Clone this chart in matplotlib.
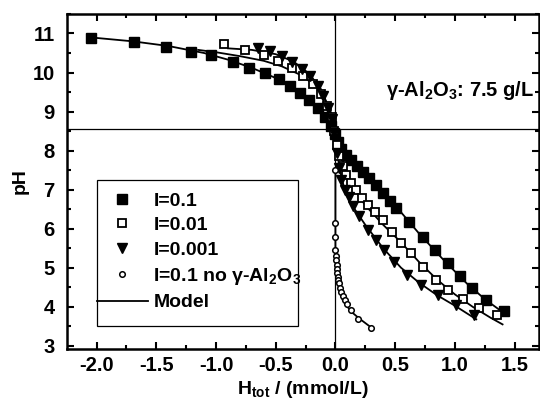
import matplotlib
matplotlib.use("Agg")
import matplotlib.pyplot as plt
from matplotlib.lines import Line2D
from matplotlib.patches import Rectangle
from matplotlib.ticker import MultipleLocator

plt.rcParams['font.family'] = ['Liberation Sans', 'DejaVu Sans']
plt.rcParams['font.weight'] = 'bold'
plt.rcParams['mathtext.fontset'] = 'custom'
plt.rcParams['mathtext.rm'] = 'Liberation Sans:bold'
plt.rcParams['mathtext.bf'] = 'Liberation Sans:bold'
plt.rcParams['mathtext.default'] = 'bf'
plt.rcParams['axes.unicode_minus'] = False

# ---- data: I = 0.1 (filled squares)
x_i01 = [-2.05, -1.69, -1.42, -1.21, -1.04, -0.86, -0.72, -0.59, -0.47, -0.38, -0.30, -0.22, -0.15,
         -0.09, -0.04, 0.0, 0.02, 0.05, 0.09, 0.13, 0.18, 0.23, 0.28, 0.34, 0.40, 0.46, 0.51, 0.62,
         0.73, 0.83, 0.94, 1.04, 1.14, 1.26, 1.41]
y_i01 = [10.88, 10.79, 10.66, 10.53, 10.45, 10.28, 10.12, 9.98, 9.83, 9.65, 9.47, 9.30, 9.09,
         8.87, 8.62, 8.42, 8.22, 8.05, 7.90, 7.76, 7.60, 7.45, 7.30, 7.12, 6.92, 6.72, 6.53, 6.18,
         5.80, 5.45, 5.11, 4.78, 4.47, 4.17, 3.90]

# ---- I = 0.01 (open squares)
x_i001 = [-0.93, -0.76, -0.60, -0.48, -0.36, -0.27, -0.19, -0.12, -0.07, -0.03, -0.01,
          0.01, 0.03, 0.06, 0.09, 0.13, 0.17, 0.22, 0.27, 0.33, 0.40, 0.47, 0.55, 0.63, 0.73,
          0.84, 0.94, 1.07, 1.20, 1.35]
y_i001 = [10.72, 10.58, 10.45, 10.30, 10.12, 9.92, 9.70, 9.45, 9.15, 8.85, 8.50,
          8.15, 7.85, 7.60, 7.38, 7.18, 6.98, 6.78, 6.60, 6.43, 6.22, 5.92, 5.63, 5.37, 5.03,
          4.68, 4.43, 4.21, 3.98, 3.79]

# ---- I = 0.001 (filled down triangles)
x_i0001 = [-0.65, -0.55, -0.45, -0.36, -0.28, -0.21, -0.15, -0.10, -0.06, -0.03, -0.01,
           0.01, 0.03, 0.05, 0.08, 0.11, 0.15, 0.20, 0.27, 0.34, 0.41, 0.49, 0.60, 0.72, 0.86,
           1.01, 1.16]
y_i0001 = [10.62, 10.55, 10.42, 10.28, 10.10, 9.90, 9.65, 9.40, 9.10, 8.80, 8.45,
           7.95, 7.55, 7.25, 7.00, 6.80, 6.58, 6.32, 5.98, 5.70, 5.45, 5.15, 4.81, 4.56, 4.30,
           4.04, 3.79]

# ---- I = 0.1, no gamma-Al2O3 (small open circles)
x_blank = [0.0, 0.0, 0.0, 0.0, 0.003, 0.006, 0.01, 0.013, 0.017, 0.02, 0.025, 0.03, 0.04,
           0.05, 0.065, 0.08, 0.1, 0.13, 0.19, 0.30]
y_blank = [7.50, 6.14, 5.80, 5.45, 5.30, 5.20, 5.08, 4.98, 4.87, 4.77, 4.68, 4.60, 4.48,
           4.38, 4.27, 4.17, 4.06, 3.92, 3.70, 3.47]

# ---- Model curves
mx_i01 = [-2.05, -1.7, -1.4, -1.1, -0.9, -0.7, -0.5, -0.35, -0.2, -0.1, -0.03, 0.0, 0.03, 0.1,
          0.2, 0.35, 0.5, 0.7, 0.9, 1.1, 1.25, 1.42]
my_i01 = [10.9, 10.8, 10.68, 10.5, 10.33, 10.12, 9.86, 9.6, 9.25, 8.95, 8.65, 8.45, 8.15, 7.85,
          7.55, 7.1, 6.6, 5.88, 5.22, 4.6, 4.2, 3.82]
mx_i001 = [-1.15, -1.0, -0.8, -0.6, -0.45, -0.3, -0.18, -0.1, -0.04, 0.0, 0.03, 0.08, 0.15,
           0.25, 0.4, 0.55, 0.7, 0.85, 1.0, 1.15, 1.3, 1.4]
my_i001 = [10.58, 10.52, 10.42, 10.3, 10.16, 9.95, 9.7, 9.4, 9.0, 8.6, 8.1, 7.55, 7.05,
           6.6, 6.1, 5.65, 5.15, 4.7, 4.32, 4.0, 3.72, 3.55]
mx_i0001 = [-0.9, -0.7, -0.5, -0.35, -0.22, -0.12, -0.05, 0.0, 0.03, 0.08, 0.15, 0.25, 0.4,
            0.55, 0.7, 0.85, 1.0, 1.18]
my_i0001 = [10.62, 10.58, 10.47, 10.28, 9.97, 9.57, 9.05, 8.5, 7.6, 6.95, 6.55, 6.1, 5.5,
            5.0, 4.62, 4.3, 4.03, 3.68]
mx_blank = [0.0, 0.0, 0.01, 0.03, 0.06, 0.1, 0.15, 0.2, 0.3]
my_blank = [7.5, 5.5, 4.95, 4.45, 4.18, 4.0, 3.83, 3.7, 3.47]

pzc_ph = 8.55
labels = ['I=0.1', 'I=0.01', 'I=0.001', r'I=0.1 no $\gamma$-Al$_2$O$_3$', 'Model']
annot = r'$\gamma$-Al$_2$O$_3$: 7.5 g/L'

W, H = 540, 405
fig = plt.figure(figsize=(5.4, 4.05), dpi=100)
ax = fig.add_axes([0.1246, 0.1383, 0.8735, 0.8272])

lw_model = 1.3
ax.axhline(pzc_ph, color='black', lw=0.9, zorder=1)
ax.axvline(0.0, color='black', lw=0.9, zorder=1)

for mx, my in [(mx_i01, my_i01), (mx_i001, my_i001), (mx_i0001, my_i0001), (mx_blank, my_blank)]:
    ax.plot(mx, my, color='black', lw=lw_model, zorder=2)

sq_f = dict(ls='none', marker='s', ms=6.5, mfc='black', mec='black')
sq_o = dict(ls='none', marker='s', ms=5.8, mfc='white', mec='black', mew=1.3)
tri = dict(ls='none', marker='v', ms=7, mfc='black', mec='black')
circ = dict(ls='none', marker='o', ms=4, mfc='white', mec='black', mew=1.1)

ax.plot(x_i01, y_i01, zorder=3, **sq_f)
ax.plot(x_i001, y_i001, zorder=3, **sq_o)
ax.plot(x_i0001, y_i0001, zorder=3, **tri)
ax.plot(x_blank, y_blank, zorder=3, **circ)

ax.set_xlim(-2.246, 1.705)
ax.set_ylim(2.92, 11.5)
ax.xaxis.set_minor_locator(MultipleLocator(0.25))
ax.yaxis.set_major_locator(MultipleLocator(1))
ax.yaxis.set_minor_locator(MultipleLocator(0.5))
ax.set_xticks([-2.0, -1.5, -1.0, -0.5, 0.0, 0.5, 1.0, 1.5])
ax.set_xticklabels(['-2.0', '-1.5', '-1.0', '-0.5', '0.0', '0.5', '1.0', '1.5'])
ax.tick_params(which='both', direction='in', top=True, right=True, width=1.5)
ax.tick_params(which='major', length=5, labelsize=14.5)
ax.tick_params(axis='x', which='major', pad=5)
ax.tick_params(axis='y', which='major', pad=9)
ax.tick_params(which='minor', length=3)
for lab in ax.get_xticklabels() + ax.get_yticklabels():
    lab.set_fontweight('bold')
for sp in ax.spines.values():
    sp.set_linewidth(1.8)

ax.set_ylabel('pH', fontsize=14, fontweight='bold', labelpad=3)
ax.set_xlabel(r'H$_{tot}$ / (mmol/L)', fontsize=14, fontweight='bold', labelpad=3)

ax.text(0.675, 0.773, annot, transform=ax.transAxes, fontsize=14.5, fontweight='bold',
        va='center', ha='left')

# legend frame (drawn as a plain rectangle)
x0, x1 = 97 / W, 298 / W
y0, y1 = 1 - 326 / H, 1 - 180 / H
fig.add_artist(Rectangle((x0, y0), x1 - x0, y1 - y0, transform=fig.transFigure,
                         fill=True, facecolor='white', edgecolor='black', lw=0.9, zorder=4))

handles = [Line2D([], [], **sq_f), Line2D([], [], **sq_o), Line2D([], [], **tri),
           Line2D([], [], **circ), Line2D([], [], color='black', lw=lw_model)]
leg = fig.legend(handles, labels, loc='upper left', bbox_to_anchor=(97 / W, 1 - 192 / H),
                 bbox_transform=fig.transFigure, prop={'weight': 'bold', 'size': 14},
                 frameon=False, handlelength=2.6, handletextpad=0.3, labelspacing=0.36,
                 borderpad=0, borderaxespad=0)
leg.set_zorder(5)

fig.savefig('out.png', dpi=100)
